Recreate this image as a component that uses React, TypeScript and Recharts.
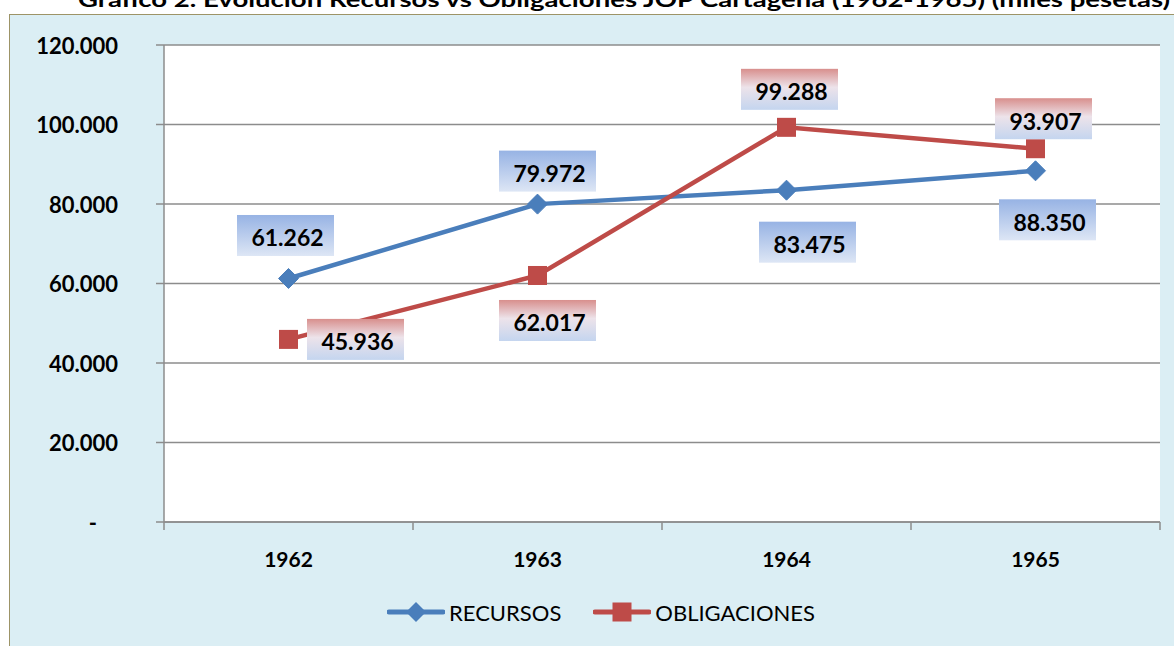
import React from 'react';
import { ComposedChart, Line, XAxis, YAxis, CartesianGrid, Legend, LabelList } from 'recharts';

const years = ['1962', '1963', '1964', '1965'];
const seriesNames = ['RECURSOS', 'OBLIGACIONES'];
const recursos = [61262, 79972, 83475, 88350];
const obligaciones = [45936, 62017, 99288, 93907];
const yTicks = [0, 20000, 40000, 60000, 80000, 100000, 120000];

// where Excel put each data label, relative to its point (box centre)
const recursosLabelShift = [[-3, -43], [10, -33], [21, 52], [12, 49]];
const obligacionesLabelShift = [[67, 0], [10, 45], [3, -38], [8, -30]];

const data = years.map((y, i) => ({ year: y, RECURSOS: recursos[i], OBLIGACIONES: obligaciones[i] }));

const FONT = 'Lato, "Open Sans", sans-serif';
const BLUE = '#4A7EBB';
const RED = '#BE4B48';
const GRID = '#8C8C8C';

const fmt = (n: number) => String(Math.round(n)).replace(/\B(?=(\d{3})+(?!\d))/g, '.');

const Diamond = (props: any) => {
  const { cx, cy } = props;
  if (cx == null || cy == null) return null;
  const r = 10;
  return <polygon points={`${cx},${cy - r} ${cx + r},${cy} ${cx},${cy + r} ${cx - r},${cy}`} fill={BLUE} stroke={BLUE} />;
};

const Square = (props: any) => {
  const { cx, cy } = props;
  if (cx == null || cy == null) return null;
  return <rect x={cx - 9.5} y={cy - 9.5} width={19} height={19} fill={RED} />;
};

const makeLabel = (shift: number[][], grad: string) => (props: any) => {
  const { x, y, value, index } = props;
  const [dx, dy] = shift[index] || [0, 0];
  const cx = x + dx;
  const cy = y + dy;
  return (
    <g>
      <rect x={cx - 48.5} y={cy - 20.5} width={97} height={41} fill={`url(#${grad})`} />
      <text x={cx + 2} y={cy + 2} textAnchor="middle" dominantBaseline="central"
        fontFamily={FONT} fontWeight={700} fontSize={23} fill="#000">
        {fmt(value)}
      </text>
    </g>
  );
};

const YTick = (props: any) => {
  const { x, y, payload } = props;
  const isZero = payload.value === 0;
  return (
    <text x={isZero ? x - 21 : x} y={y} textAnchor="end" dominantBaseline="central"
      fontFamily={FONT} fontWeight={700} fontSize={22} fill="#000">
      {isZero ? '-' : fmt(payload.value)}
    </text>
  );
};

const XTick = (props: any) => {
  const { x, y, payload, index, width, visibleTicksCount } = props;
  const step = width / visibleTicksCount;
  const left = x - step / 2;
  return (
    <g>
      <line x1={left} x2={left} y1={y} y2={y + 8} stroke={GRID} strokeWidth={1.5} />
      {index === visibleTicksCount - 1 && (
        <line x1={x + step / 2} x2={x + step / 2} y1={y} y2={y + 8} stroke={GRID} strokeWidth={1.5} />
      )}
      <text x={x} y={y + 36} textAnchor="middle" dominantBaseline="central"
        fontFamily={FONT} fontWeight={700} fontSize={21} fill="#000">
        {payload.value}
      </text>
    </g>
  );
};

const LegendContent = (props: any) => {
  const payload = [...(props.payload || [])].sort(
    (a: any, b: any) => seriesNames.indexOf(a.value) - seriesNames.indexOf(b.value));
  return (
    <div style={{ display: 'flex', justifyContent: 'center', alignItems: 'center', height: 40, paddingLeft: 42, gap: 32 }}>
      {payload.map((entry: any) => (
        <div key={entry.value} style={{ display: 'flex', alignItems: 'center' }}>
          <svg width={58} height={22}>
            <line x1={2} x2={56} y1={11} y2={11} stroke={entry.color} strokeWidth={5} strokeLinecap="round" />
            {entry.value === 'RECURSOS'
              ? <polygon points="29,1 39,11 29,21 19,11" fill={entry.color} />
              : <rect x={19.5} y={1.5} width={19} height={19} fill={entry.color} />}
          </svg>
          <span style={{ fontFamily: FONT, fontSize: 22, color: '#000', marginLeft: 4 }}>{entry.value}</span>
        </div>
      ))}
    </div>
  );
};

export default function App() {
  return (
    <div style={{ position: 'absolute', left: 0, top: 0, width: 1174, height: 646, overflow: 'hidden', background: '#fff' }}>
      <div style={{ position: 'absolute', left: 9, top: 14, width: 1200, height: 700, background: '#DBEEF4', border: '1.5px solid #9D9467' }} />
      <svg style={{ position: 'absolute', left: 0, top: 0 }} width={1174} height={20}>
        <text x={78} y={7} textLength={1092} lengthAdjust="spacingAndGlyphs"
          fontFamily={FONT} fontWeight={700} fontSize={21} fill="#000">
          Gráfico 2. Evolución Recursos vs Obligaciones JOP Cartagena (1962-1965) (miles pesetas)
        </text>
      </svg>
      <div style={{ position: 'absolute', left: 0, top: 0 }}>
        <ComposedChart width={1174} height={646} data={data} margin={{ top: 45, right: 14, left: 0, bottom: 14 }}>
          <defs>
            <linearGradient id="gBlue" x1="0" y1="0" x2="0" y2="1">
              <stop offset="0" stopColor="#97B3E4" />
              <stop offset="1" stopColor="#DDE6F5" />
            </linearGradient>
            <linearGradient id="gRed" x1="0" y1="0" x2="0" y2="1">
              <stop offset="0" stopColor="#D88F8D" />
              <stop offset="0.45" stopColor="#EDE3EA" />
              <stop offset="1" stopColor="#C4D5EF" />
            </linearGradient>
          </defs>
          <CartesianGrid vertical={false} fill="#fff" stroke={GRID} strokeWidth={1.5} />
          <XAxis dataKey="year" type="category" scale="band" height={70} tickLine={false} tickSize={0} tickMargin={0}
            axisLine={{ stroke: GRID, strokeWidth: 1.5 }} tick={<XTick />} interval={0} />
          <YAxis type="number" width={164} domain={[0, 120000]} ticks={yTicks} tickSize={8} tickMargin={38}
            axisLine={{ stroke: GRID, strokeWidth: 1.5 }} tickLine={{ stroke: GRID, strokeWidth: 1.5 }}
            tick={<YTick />} interval={0} />
          <Legend verticalAlign="bottom" height={40} content={<LegendContent />} />
          <Line dataKey="RECURSOS" stroke={BLUE} strokeWidth={4.5} dot={<Diamond />} activeDot={false}
            isAnimationActive={false}>
            <LabelList dataKey="RECURSOS" content={makeLabel(recursosLabelShift, 'gBlue')} />
          </Line>
          <Line dataKey="OBLIGACIONES" stroke={RED} strokeWidth={4.5} dot={<Square />} activeDot={false}
            isAnimationActive={false}>
            <LabelList dataKey="OBLIGACIONES" content={makeLabel(obligacionesLabelShift, 'gRed')} />
          </Line>
        </ComposedChart>
      </div>
    </div>
  );
}
